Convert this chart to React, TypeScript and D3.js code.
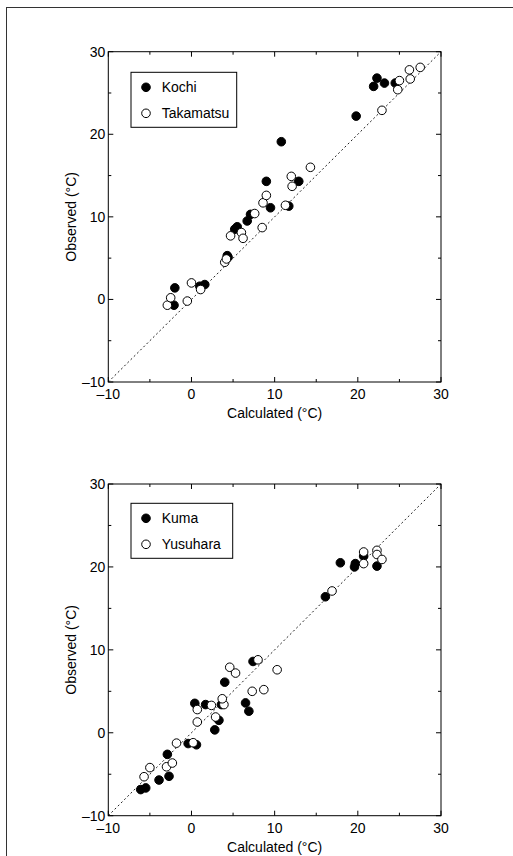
import React from "react";
import * as d3 from "d3";

type P = [number, number];

// ---- Data (calculated, observed) in °C ----
const kochi: P[] = [
  [-2.1, -0.7], [-2.0, 1.4], [1.0, 1.6], [1.6, 1.8], [4.3, 5.3], [4.4, 5.1],
  [5.2, 8.5], [5.5, 8.8], [6.7, 9.5], [7.1, 10.3], [9.0, 14.3], [9.5, 11.1],
  [10.8, 19.1], [11.7, 11.3], [12.9, 14.3], [19.8, 22.2], [21.9, 25.8],
  [22.3, 26.8], [23.2, 26.2], [24.5, 26.2],
];
const takamatsu: P[] = [
  [-2.9, -0.7], [-2.5, 0.2], [-0.5, -0.2], [0.0, 2.0], [1.1, 1.2], [4.0, 4.5],
  [4.2, 4.9], [4.7, 7.7], [6.0, 8.1], [6.2, 7.4], [7.6, 10.4], [8.5, 8.7],
  [8.6, 11.7], [9.0, 12.6], [11.3, 11.4], [12.0, 14.9], [12.1, 13.7],
  [14.3, 16.0], [22.9, 22.9], [24.8, 25.4], [25.0, 26.5], [26.3, 26.7],
  [26.2, 27.8], [27.5, 28.1],
];
const kuma: P[] = [
  [-6.1, -6.85], [-5.5, -6.65], [-3.9, -5.7], [-2.7, -5.25], [-2.9, -2.6],
  [-0.4, -1.3], [0.6, -1.45], [2.8, 0.35], [3.3, 1.5], [0.4, 3.55], [1.7, 3.4],
  [3.6, 3.4], [6.5, 3.6], [6.9, 2.6], [4.0, 6.1], [7.4, 8.6], [16.1, 16.4],
  [17.9, 20.5], [19.7, 20.4], [19.6, 20.0], [20.7, 21.3], [22.3, 20.1],
];
const yusuhara: P[] = [
  [-5.7, -5.3], [-5.0, -4.2], [-3.0, -4.1], [-2.3, -3.65], [-1.8, -1.25],
  [0.2, -1.2], [0.7, 1.3], [0.7, 2.8], [2.9, 1.9], [2.4, 3.3], [3.9, 3.4],
  [3.7, 4.1], [4.6, 7.9], [5.3, 7.2], [7.3, 5.0], [8.7, 5.2], [8.0, 8.8],
  [10.3, 7.6], [16.9, 17.1], [20.7, 21.8], [20.7, 20.4], [22.3, 22.0],
  [22.3, 21.5], [22.9, 20.9],
];

const domain: [number, number] = [-10, 30];
const majorTicks = [-10, 0, 10, 20, 30];
const minorTicks = [-5, 5, 15, 25];
const tickLabels = ["\u201310", "0", "10", "20", "30"];
const xTitle = "Calculated (\u00B0C)";
const yTitle = "Observed (\u00B0C)";

const FONT = "'Liberation Sans', Arial, Helvetica, sans-serif";

interface PanelProps {
  top: number;
  bottom: number;
  filled: P[];
  open: P[];
  filledName: string;
  openName: string;
  legendY: number;
  legendW: number;
}

function Panel({ top, bottom, filled, open, filledName, openName, legendY, legendW }: PanelProps) {
  const left = 108.3;
  const right = 441;
  const x = d3.scaleLinear().domain(domain).range([left, right]);
  const y = d3.scaleLinear().domain(domain).range([bottom, top]);
  const r = 4.3;
  const line = d3.line<P>().x((d) => x(d[0])).y((d) => y(d[1]));
  const majLen = 5;
  const minLen = 3;
  const lx = 131;
  return (
    <g>
      {/* 1:1 line */}
      <path
        d={line([[domain[0], domain[0]], [domain[1], domain[1]]]) || ""}
        stroke="#222"
        strokeWidth={1}
        strokeDasharray="2,2.5"
        fill="none"
      />
      {/* ticks */}
      {majorTicks.map((t) => (
        <g key={"M" + t}>
          <line x1={x(t)} x2={x(t)} y1={bottom} y2={bottom - majLen} stroke="#000" />
          <line x1={x(t)} x2={x(t)} y1={top} y2={top + majLen} stroke="#000" />
          <line x1={left} x2={left + majLen} y1={y(t)} y2={y(t)} stroke="#000" />
          <line x1={right} x2={right - majLen} y1={y(t)} y2={y(t)} stroke="#000" />
        </g>
      ))}
      {minorTicks.map((t) => (
        <g key={"m" + t}>
          <line x1={x(t)} x2={x(t)} y1={bottom} y2={bottom - minLen} stroke="#000" />
          <line x1={x(t)} x2={x(t)} y1={top} y2={top + minLen} stroke="#000" />
          <line x1={left} x2={left + minLen} y1={y(t)} y2={y(t)} stroke="#000" />
          <line x1={right} x2={right - minLen} y1={y(t)} y2={y(t)} stroke="#000" />
        </g>
      ))}
      <rect x={left} y={top} width={right - left} height={bottom - top} fill="none" stroke="#000" strokeWidth={1} />
      {/* tick labels */}
      {majorTicks.map((t, i) => (
        <text key={"xl" + t} x={x(t)} y={bottom + 17} textAnchor="middle" fontSize={14} fontFamily={FONT} fill="#000">
          {tickLabels[i]}
        </text>
      ))}
      {majorTicks.map((t, i) => (
        <text key={"yl" + t} x={left - 3} y={y(t) + 5} textAnchor="end" fontSize={14} fontFamily={FONT} fill="#000">
          {tickLabels[i]}
        </text>
      ))}
      {/* axis titles */}
      <text x={(left + right) / 2} y={bottom + 36} textAnchor="middle" fontSize={14} fontFamily={FONT} fill="#000">
        {xTitle}
      </text>
      <text
        transform={`translate(76,${(top + bottom) / 2}) rotate(-90)`}
        textAnchor="middle"
        fontSize={14}
        fontFamily={FONT}
        fill="#000"
      >
        {yTitle}
      </text>
      {/* points */}
      {filled.map((d, i) => (
        <circle key={"f" + i} cx={x(d[0])} cy={y(d[1])} r={r} fill="#000" stroke="#000" strokeWidth={1} />
      ))}
      {open.map((d, i) => (
        <circle key={"o" + i} cx={x(d[0])} cy={y(d[1])} r={r} fill="#fff" stroke="#000" strokeWidth={1} />
      ))}
      {/* legend */}
      <rect x={lx} y={legendY} width={legendW} height={55} fill="#fff" stroke="#000" strokeWidth={1} />
      <circle cx={lx + 15} cy={legendY + 15} r={r} fill="#000" stroke="#000" />
      <text x={lx + 30.7} y={legendY + 20} fontSize={14} fontFamily={FONT} fill="#000">
        {filledName}
      </text>
      <circle cx={lx + 15} cy={legendY + 41} r={r} fill="#fff" stroke="#000" />
      <text x={lx + 30.7} y={legendY + 46} fontSize={14} fontFamily={FONT} fill="#000">
        {openName}
      </text>
    </g>
  );
}

export default function App() {
  return (
    <svg
      width={513}
      height={856}
      style={{ position: "absolute", left: 0, top: 0, background: "#fff" }}
      xmlns="http://www.w3.org/2000/svg"
    >
      <rect x={0} y={0} width={513} height={856} fill="#fff" />
      <rect x={6.5} y={7.5} width={700} height={1000} fill="none" stroke="#333" strokeWidth={1} />
      <Panel
        top={51.7}
        bottom={382}
        filled={kochi}
        open={takamatsu}
        filledName="Kochi"
        openName="Takamatsu"
        legendY={72.3}
        legendW={105.7}
      />
      <Panel
        top={484}
        bottom={815.7}
        filled={kuma}
        open={yusuhara}
        filledName="Kuma"
        openName="Yusuhara"
        legendY={503.3}
        legendW={101.7}
      />
    </svg>
  );
}
